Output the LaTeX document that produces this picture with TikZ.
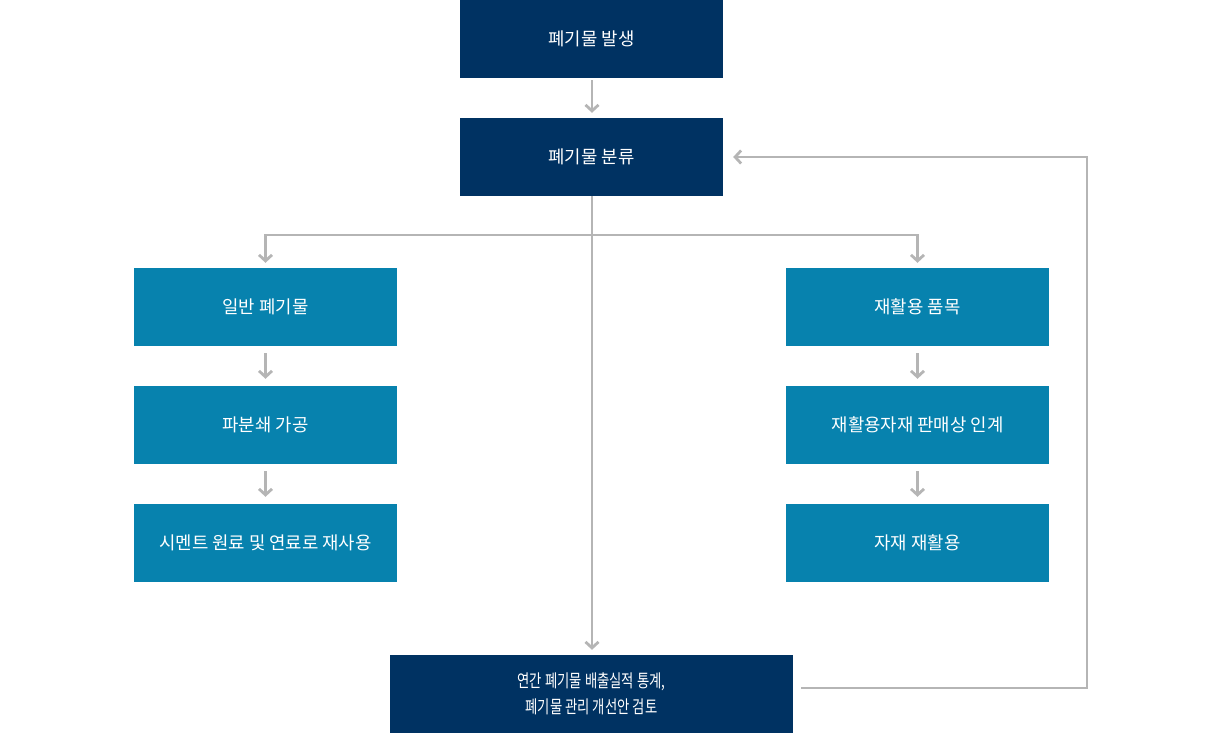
\documentclass[tikz,border=0pt]{standalone}
\usepackage{fontspec}
\usepackage{graphicx}
\setmainfont{Noto Sans CJK KR}
\usetikzlibrary{arrows.meta}
\definecolor{navy}{HTML}{003262}
\definecolor{teal}{HTML}{0782AE}
\definecolor{lgray}{HTML}{B5B5B5}
\newcommand{\narrowline}[1]{\scalebox{0.75}[1.0]{#1}}
\tikzset{
  box/.style={rectangle, inner sep=0pt, minimum width=263pt, minimum height=78pt,
    text=white, font=\fontsize{17.8pt}{22pt}\selectfont, align=center},
  navybox/.style={box, fill=navy},
  tealbox/.style={box, fill=teal},
  arr/.style={draw=lgray, line width=2.8pt, -{Straight Barb[length=6pt,width=13pt,line width=2.8pt]}},
}
\begin{document}
\begin{tikzpicture}[x=1pt,y=-1pt]
\useasboundingbox (0,0) rectangle (1229,733);
\node[navybox] (gen) at (591.5,39) {폐기물 발생};
\node[navybox] (cls) at (591.5,157) {폐기물 분류};
\node[tealbox] (l1) at (265.5,307) {일반 폐기물};
\node[tealbox] (l2) at (265.5,425) {파분쇄 가공};
\node[tealbox] (l3) at (265.5,543) {시멘트 원료 및 연료로 재사용};
\node[tealbox] (r1) at (917.5,307) {재활용 품목};
\node[tealbox] (r2) at (917.5,425) {재활용자재 판매상 인계};
\node[tealbox] (r3) at (917.5,543) {자재 재활용};
\node[navybox, minimum width=403pt, font={\fontsize{17.8pt}{26pt}\selectfont}] (bot) at (591.5,694) {\narrowline{연간 폐기물 배출실적 통계,}\\\narrowline{폐기물 관리 개선안 검토}};
\coordinate (br) at (592,235);
\coordinate (fb) at (1087,157);
\draw[arr, shorten <=2pt, shorten >=5pt] (gen.south -| br) -- (cls.north -| br);
\draw[arr, shorten >=5pt] (cls.south -| br) -- (bot.north -| br);
\draw[arr, shorten >=5pt] (br) -| (l1.north);
\draw[arr, shorten >=5pt] (br) -| (r1.north);
\foreach \a/\b in {l1/l2, l2/l3, r1/r2, r2/r3}{
  \draw[arr, shorten <=7pt, shorten >=7pt] (\a.south) -- (\b.north);
}
\draw[arr, shorten >=10pt] ([xshift=8pt,yshift=6pt]bot.east) -| (fb) -- (cls.east |- fb);
\end{tikzpicture}
\end{document}
